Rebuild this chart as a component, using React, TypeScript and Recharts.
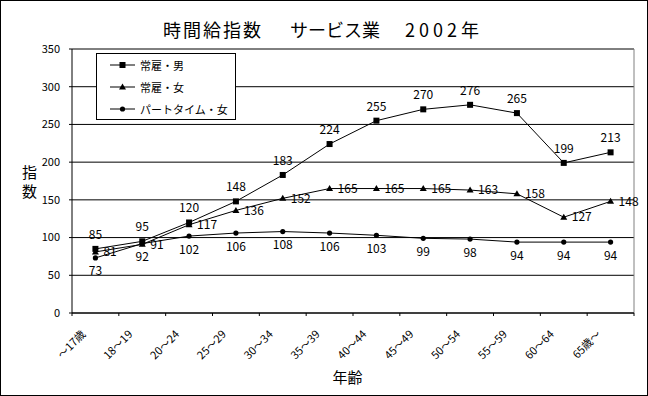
import React from 'react';
import {
  LineChart,
  Line,
  XAxis,
  YAxis,
  CartesianGrid,
  LabelList,
  Legend
} from 'recharts';

const ageGroups = ['～17歳', '18～19', '20～24', '25～29', '30～34', '35～39', '40～44', '45～49', '50～54', '55～59', '60～64', '65歳～'];
const regularMale = [85, 95, 120, 148, 183, 224, 255, 270, 276, 265, 199, 213];
const regularFemale = [81, 91, 117, 136, 152, 165, 165, 165, 163, 158, 127, 148];
const partTimeFemale = [73, 92, 102, 106, 108, 106, 103, 99, 98, 94, 94, 94];
const yTicks = [0, 50, 100, 150, 200, 250, 300, 350];
const seriesNames = ['常雇・男', '常雇・女', 'パートタイム・女'];

const data = ageGroups.map((age, i) => ({
  age,
  male: regularMale[i],
  female: regularFemale[i],
  part: partTimeFemale[i]
}));

const FONT = "'Noto Sans CJK JP', sans-serif";
const PLOT_W = 648 - 72 - 14;
const BAND = PLOT_W / ageGroups.length;

const SquareDot = (p: any) =>
  p.cx == null ? null : <rect key={`s-${p.index}`} x={p.cx - 3} y={p.cy - 3} width={6} height={6} fill="#000" />;
const TriangleDot = (p: any) =>
  p.cx == null ? null : (
    <polygon key={`t-${p.index}`} points={`${p.cx},${p.cy - 3.5} ${p.cx - 3.5},${p.cy + 2.5} ${p.cx + 3.5},${p.cy + 2.5}`} fill="#000" />
  );
const CircleDot = (p: any) =>
  p.cx == null ? null : <circle key={`c-${p.index}`} cx={p.cx} cy={p.cy} r={2.6} fill="#000" />;

const markers = [
  (x: number, y: number) => <rect x={x - 3} y={y - 3} width={6} height={6} fill="#000" />,
  (x: number, y: number) => <polygon points={`${x},${y - 3.5} ${x - 3.5},${y + 2.5} ${x + 3.5},${y + 2.5}`} fill="#000" />,
  (x: number, y: number) => <circle cx={x} cy={y} r={2.6} fill="#000" />
];

// tick marks sit on the category boundaries, labels rotated under the centre
function AgeTick({ x, y, payload, index }: any) {
  const axisY = y - 3;
  const tx = x - 9;
  const ty = y + 19;
  return (
    <g>
      <line x1={x - BAND / 2} x2={x - BAND / 2} y1={axisY} y2={axisY + 3} stroke="#000" />
      {index === ageGroups.length - 1 && (
        <line x1={x + BAND / 2} x2={x + BAND / 2} y1={axisY} y2={axisY + 3} stroke="#000" />
      )}
      <text
        x={tx}
        y={ty}
        textAnchor="end"
        fontSize={11}
        fontFamily={FONT}
        fill="#000"
        transform={`rotate(-45, ${tx}, ${ty})`}
      >
        {payload.value}
      </text>
    </g>
  );
}

function LegendBox() {
  return (
    <div
      style={{
        width: 140,
        height: 67,
        boxSizing: 'border-box',
        border: '1px solid #000',
        background: '#fff',
        fontFamily: FONT,
        fontSize: 11,
        color: '#000'
      }}
    >
      {seriesNames.map((name, i) => (
        <div key={name} style={{ display: 'flex', alignItems: 'center', height: 22 }}>
          <svg width={43} height={10} style={{ flex: 'none' }}>
            <line x1={13} x2={38} y1={5} y2={5} stroke="#000" />
            {markers[i](25.5, 5)}
          </svg>
          <span style={{ whiteSpace: 'nowrap' }}>{name}</span>
        </div>
      ))}
    </div>
  );
}

const labelStyle = { fontSize: 12, fontFamily: FONT, fill: '#000' };
const titleStyle: React.CSSProperties = {
  position: 'absolute',
  top: 17,
  fontSize: 18,
  lineHeight: '24px',
  color: '#000',
  whiteSpace: 'nowrap'
};

export default function App() {
  return (
    <div style={{ position: 'relative', width: 648, height: 396, background: '#fff', fontFamily: FONT }}>
      <style>{'body{margin:0}'}</style>
      <div style={{ ...titleStyle, left: 163, letterSpacing: 2 }}>時間給指数</div>
      <div style={{ ...titleStyle, left: 290 }}>サービス業</div>
      <div style={{ ...titleStyle, left: 405, letterSpacing: 4 }}>2002年</div>
      <div
        style={{
          position: 'absolute',
          left: 22,
          top: 162,
          fontSize: 15,
          lineHeight: '19px',
          color: '#000'
        }}
      >
        指<br />数
      </div>
      <div
        style={{
          position: 'absolute',
          left: 0,
          top: 367,
          width: 695,
          textAlign: 'center',
          fontSize: 15,
          lineHeight: '20px',
          color: '#000'
        }}
      >
        年齢
      </div>
      <LineChart width={648} height={396} data={data} margin={{ top: 49, right: 14, bottom: 0, left: 0 }}>
        <CartesianGrid stroke="#000" vertical={false} />
        <CartesianGrid
          stroke="#808080"
          horizontalCoordinatesGenerator={({ offset }: any) => [offset.top]}
          verticalCoordinatesGenerator={({ offset }: any) => [offset.left + offset.width]}
        />
        <XAxis
          dataKey="age"
          height={83}
          padding={{ left: BAND / 2, right: BAND / 2 }}
          interval={0}
          stroke="#000"
          tickLine={false}
          tickSize={3}
          tickMargin={0}
          tick={<AgeTick />}
        />
        <YAxis
          width={72}
          domain={[0, 350]}
          ticks={yTicks}
          interval={0}
          stroke="#000"
          tickSize={3}
          tickMargin={9}
          tick={{ fontSize: 11, fontFamily: FONT, fill: '#000' }}
        />
        <Legend
          layout="vertical"
          align="center"
          verticalAlign="middle"
          wrapperStyle={{ left: 96, top: 53, width: 140 }}
          content={() => <LegendBox />}
        />
        <Line
          dataKey="male"
          name={seriesNames[0]}
          stroke="#000"
          strokeWidth={1}
          dot={SquareDot}
          activeDot={false}
          isAnimationActive={false}
        >
          <LabelList dataKey="male" position="top" offset={10} style={labelStyle} />
        </Line>
        <Line
          dataKey="female"
          name={seriesNames[1]}
          stroke="#000"
          strokeWidth={1}
          dot={TriangleDot}
          activeDot={false}
          isAnimationActive={false}
        >
          <LabelList dataKey="female" position="right" offset={8} style={labelStyle} />
        </Line>
        <Line
          dataKey="part"
          name={seriesNames[2]}
          stroke="#000"
          strokeWidth={1}
          dot={CircleDot}
          activeDot={false}
          isAnimationActive={false}
        >
          <LabelList dataKey="part" position="bottom" offset={9} style={labelStyle} />
        </Line>
      </LineChart>
      <div
        style={{
          position: 'absolute',
          inset: 0,
          border: '1px solid #000',
          boxSizing: 'border-box',
          pointerEvents: 'none'
        }}
      />
    </div>
  );
}
